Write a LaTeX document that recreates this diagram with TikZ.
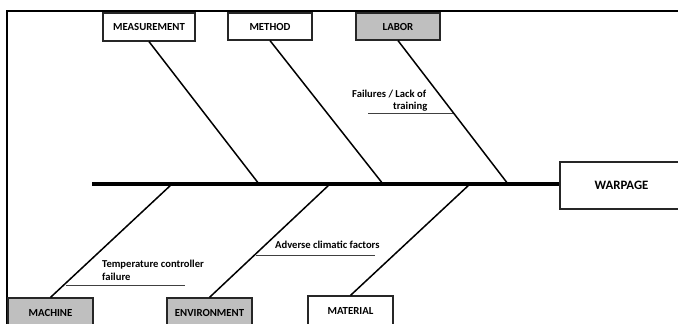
\documentclass[tikz,border=0pt]{standalone}
\usepackage{fontspec}
\setmainfont{Carlito}
\begin{document}
\begin{tikzpicture}[x=1pt,y=-1pt,
  cat/.style={draw=black!85, line width=1.2pt, inner sep=0pt,
    font=\bfseries\fontsize{10.8}{13}\selectfont},
  whitecat/.style={cat, fill=white},
  greycat/.style={cat, fill=black!25},
  bone/.style={line width=1.5pt},
  spine/.style={line width=4pt},
  cause/.style={inner sep=0pt, anchor=base west,
    font=\bfseries\fontsize{10.6}{12}\selectfont},
  causeline/.style={line width=0.8pt, black!75}]
\useasboundingbox (0,0) rectangle (678,324);
\clip (0,0) rectangle (678,324);

% outer frame (only top and left sides fall inside the page)
\draw[line width=2pt] (7,340) -- (7,11) -- (690,11);

% effect box and spine
\node[whitecat, minimum width=123pt, minimum height=47pt,
  font=\bfseries\fontsize{12.8}{15}\selectfont] (effect) at (621.5,185.5) {WARPAGE};
\coordinate (tail) at (92,184);
\draw[spine] (tail) -- (effect.west |- tail);

% category boxes
\node[whitecat, minimum width=92pt, minimum height=28pt] (meas) at (149,27) {MEASUREMENT};
\node[whitecat, minimum width=84pt, minimum height=27pt] (meth) at (270,26.5) {METHOD};
\node[greycat,  minimum width=84pt, minimum height=27pt] (labor) at (398,26.5) {LABOR};
\node[greycat,  minimum width=85pt, minimum height=30pt] (mach) at (50.5,313) {MACHINE};
\node[greycat,  minimum width=85pt, minimum height=30pt] (env) at (209.5,313) {ENVIRONMENT};
\node[whitecat, minimum width=85pt, minimum height=30pt] (mat) at (350.5,311) {MATERIAL};

% points where the bones meet the spine
\coordinate (j1) at (259,184);
\coordinate (j2) at (383,184);
\coordinate (j3) at (508,184);
\coordinate (j4) at (172,184);
\coordinate (j5) at (330,184);
\coordinate (j6) at (470,184);

% bones
\draw[bone] (meas.south) -- (j1);
\draw[bone] (meth.south) -- (j2);
\draw[bone] (labor.south) -- (j3);
\draw[bone] (mach.north) -- (j4);
\draw[bone] (env.north) -- (j5);
\draw[bone] (mat.north) -- (j6);

% causes
\node[cause] (c1a) at (352,97) {Failures / Lack of};
\node[cause] (c1b) at (393,109.5) {training};
\coordinate (c1s) at (368,113);
\coordinate (c1e) at (453,113);
\draw[causeline] (c1s) -- (c1e);

\node[cause] (c2a) at (102,267) {Temperature controller};
\node[cause] (c2b) at (102,280) {failure};
\coordinate (c2s) at (66,285);
\coordinate (c2e) at (185,285);
\draw[causeline] (c2s) -- (c2e);

\node[cause] (c3) at (275,248) {Adverse climatic factors};
\coordinate (c3s) at (256,255);
\coordinate (c3e) at (375,255);
\draw[causeline] (c3s) -- (c3e);
\end{tikzpicture}
\end{document}
